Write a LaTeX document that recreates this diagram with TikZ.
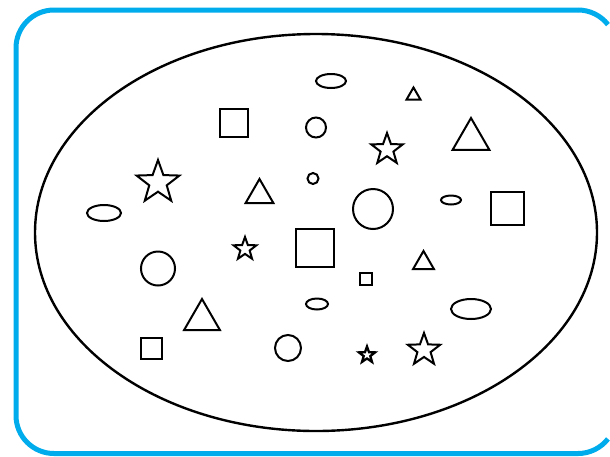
\documentclass[tikz,border=0pt]{standalone}
\usetikzlibrary{shapes.geometric}
\definecolor{framecyan}{RGB}{0,172,236}
\tikzset{
  shp/.style={draw=black, line width=2pt, inner sep=0pt, outer sep=0pt},
  sq/.style={shp, rectangle, minimum width=#1, minimum height=#1},
  circ/.style={shp, circle, minimum size=#1},
  ell/.style 2 args={shp, ellipse, minimum width=#1, minimum height=#2},
  tri/.style={shp, regular polygon, regular polygon sides=3, minimum size=#1},
  starshape/.style={shp, star, star points=5, star point ratio=2.45, minimum size=#1},
  framestyle/.style={framecyan, line width=5pt}
}
\begin{document}
\begin{tikzpicture}[x=1pt, y=-1pt]
\useasboundingbox (0,0) rectangle (610,456);
% frame: left part with rounded corners, right corners as arcs that stop at the picture edge
\draw[framestyle, rounded corners=38pt] (578,453.5) -- (16,453.5) -- (16,10) -- (578,10);
\draw[framestyle] (578,10) arc[start angle=90, end angle=38, radius=38pt];
\draw[framestyle] (578,453.5) arc[start angle=-90, end angle=-38, radius=38pt];
\node[draw, line width=2.4pt, ellipse, minimum width=562pt, minimum height=397pt, inner sep=0pt] (outer) at (316,232.5) {};
% ellipses
\node[ell={30pt}{14pt}] (e1) at (331,81) {};
\node[ell={34pt}{16pt}] (e2) at (104,213) {};
\node[ell={20pt}{9pt}] (e3) at (451,200) {};
\node[ell={22pt}{11pt}] (e4) at (317,304) {};
\node[ell={40pt}{20pt}] (e5) at (471,309) {};
% triangles
\node[tri=16pt] (t1) at (413.5,95.5) {};
\node[tri=42.6pt] (t2) at (471,139.3) {};
\node[tri=32pt] (t3) at (259.5,195) {};
\node[tri=24pt] (t4) at (423.5,263) {};
\node[tri=41.4pt] (t5) at (202,319.7) {};
% squares
\node[sq=28pt] (s1) at (234,122.5) {};
\node[sq=33pt] (s2) at (507,208) {};
\node[sq=38pt] (s3) at (315,248) {};
\node[sq=12pt] (s4) at (366,279) {};
\node[sq=21pt] (s5) at (151.5,348.5) {};
% circles
\node[circ=20pt] (c1) at (316,127.5) {};
\node[circ=11pt] (c2) at (313,178.5) {};
\node[circ=40pt] (c3) at (373,209) {};
\node[circ=34pt] (c4) at (158,268.5) {};
\node[circ=26pt] (c5) at (288,348) {};
% stars
\node[starshape=33pt] (st1) at (387,149.5) {};
\node[starshape=45pt] (st2) at (158,182.5) {};
\node[starshape=24pt] (st3) at (245,249) {};
\node[starshape=17pt, line width=2.3pt] (st4) at (367,355) {};
\node[starshape=34pt] (st5) at (424,350) {};
\end{tikzpicture}
\end{document}
